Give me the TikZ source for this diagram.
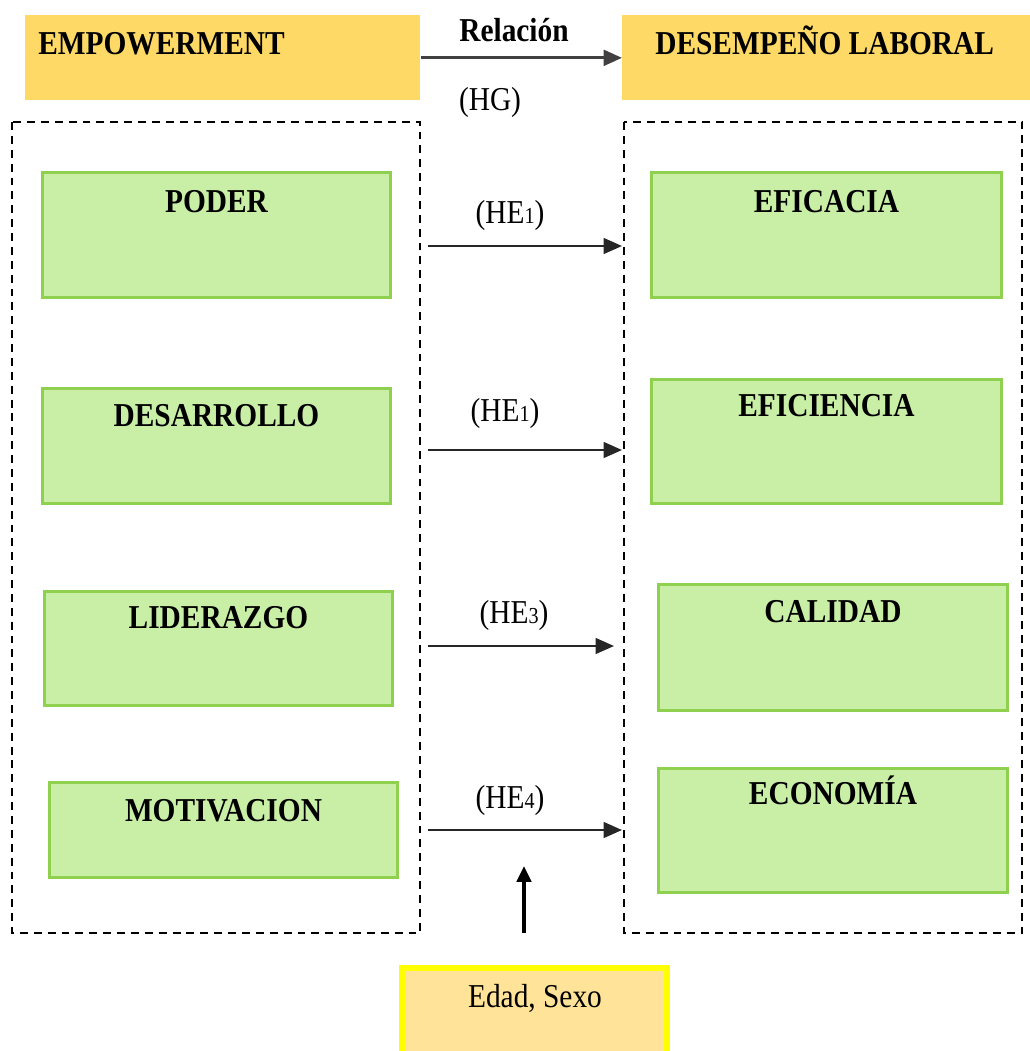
\documentclass[tikz,border=0pt]{standalone}
\usepackage{fontspec}
\setmainfont{Liberation Serif}[FakeStretch=0.88]
\usetikzlibrary{arrows.meta}

\definecolor{headgold}{HTML}{FFD966}
\definecolor{boxgreen}{HTML}{C9EFA7}
\definecolor{edgegreen}{HTML}{8FD14F}
\definecolor{edadfill}{HTML}{FFE398}
\definecolor{edadedge}{HTML}{FFFF00}

\begin{document}
\begin{tikzpicture}[x=0.02cm,y=-0.02cm,
  every node/.style={font=\fontsize{19}{22}\selectfont, inner sep=0pt},
  headbox/.style={fill=headgold, anchor=north west},
  greenbox/.style={fill=boxgreen, draw=edgegreen, line width=1.7pt, anchor=north west},
  boxtext/.style={font=\fontsize{19}{22}\selectfont\bfseries, anchor=base},
  dashbox/.style={line width=1.1pt, dash pattern=on 4.5pt off 3.4pt},
  relarrow/.style={line width=1.2pt, black!85, -{Triangle[length=10.5pt,width=9pt]}}]

  \useasboundingbox (0,0) rectangle (1030,1051);

  % cabecera
  \node[headbox, minimum width=7.9cm, minimum height=1.7cm] (emp) at (25,15) {};
  \node[headbox, minimum width=8.16cm, minimum height=1.7cm] (des) at (622,15) {};
  \node[boxtext, anchor=base west] (emptxt) at (38,55) {EMPOWERMENT};
  \node[boxtext, anchor=base west] (destxt) at (655,55) {DESEMPEÑO LABORAL};
  \draw[relarrow, line width=1.7pt, black!75] (emp.east) -- (des.west);
  \node[boxtext] (rel) at (514,42) {Relación};
  \node[anchor=base] (hg) at (490,111) {(HG)};

  \draw[dashbox] (12,122) rectangle (420,933);
  \draw[dashbox] (624,122) rectangle (1022,933);

  % dimensiones
  \foreach \name/\x/\y/\w/\h/\txt/\base in {
      poder/41/171/348/125/PODER/212,
      desarrollo/41/387/348/115/DESARROLLO/426,
      liderazgo/43/590/348/114/LIDERAZGO/628,
      motivacion/48/781/348/95/MOTIVACION/821,
      eficacia/650/171/350/125/EFICACIA/212,
      eficiencia/650/378/350/124/EFICIENCIA/416,
      calidad/657/583/349/126/CALIDAD/622,
      economia/657/767/349/124/ECONOMÍA/804} {
    \node[greenbox, minimum width=\w*0.02cm, minimum height=\h*0.02cm] (\name) at (\x,\y) {};
    \node[boxtext] (\name txt) at (\name.north |- 0,\base) {\txt};
  }

  % hipotesis especificas
  \foreach \i/\y/\xe/\lx/\lbase/\n in {
      1/246/622/510/223/1,
      2/450/622/505/421/1,
      3/646/614/514/623/3,
      4/830/622/510/808/4} {
    \coordinate (he\i s) at (428,\y);
    \coordinate (he\i e) at (\xe,\y);
    \draw[relarrow] (he\i s) -- (he\i e);
    \node[anchor=base] (he\i) at (\lx,\lbase) {(HE{\fontsize{13}{15}\selectfont\n})};
  }

  % variables de control
  \node[fill=edadfill, draw=edadedge, line width=3.4pt, anchor=north,
        minimum width=5.3cm, minimum height=2.2cm] (edad) at (534.5,965) {};
  \node[anchor=base] (edadtxt) at (535,1007) {Edad, Sexo};
  \coordinate (up) at (524,933);
  \coordinate (upend) at (524,866);
  \draw[line width=2.3pt, -{Triangle[length=9pt,width=8pt]}] (up) -- (upend);
\end{tikzpicture}
\end{document}
